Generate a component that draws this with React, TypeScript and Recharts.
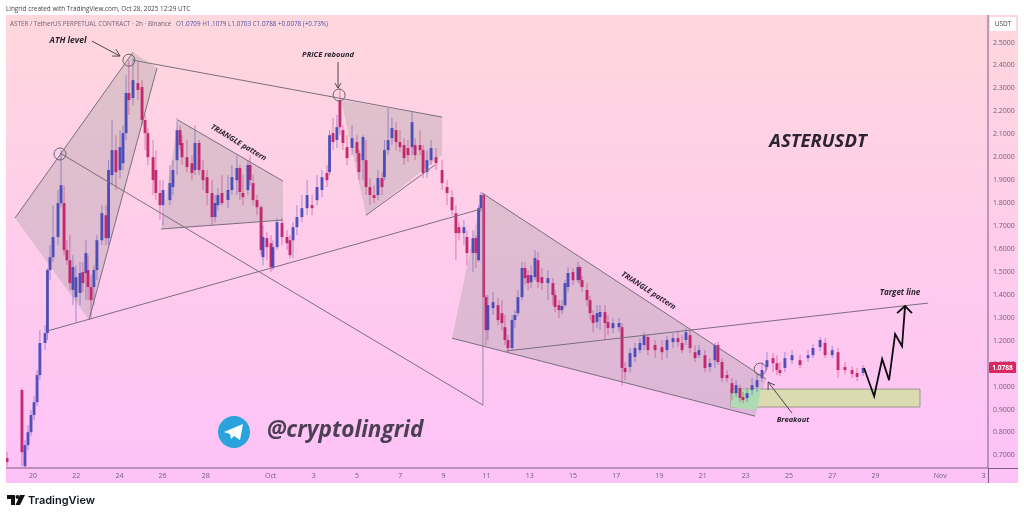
import {
  Bar,
  ComposedChart,
  Line,
  ReferenceArea,
  ReferenceDot,
  ReferenceLine,
  XAxis,
  YAxis,
} from 'recharts';

// x axis is in days since Sep 20
const tickDays = [0, 2, 4, 6, 8, 11, 13, 15, 17, 19, 21, 23, 25, 27, 29, 31, 33, 35, 37, 39, 42, 44];
const tickLabels = ['20', '22', '24', '26', '28', 'Oct', '3', '5', '7', '9', '11', '13', '15', '17', '19', '21', '23', '25', '27', '29', 'Nov', '3'];
const priceTicks = [2.5, 2.4, 2.3, 2.2, 2.1, 2.0, 1.9, 1.8, 1.7, 1.6, 1.5, 1.4, 1.3, 1.2, 1.1, 1.0, 0.9, 0.8, 0.7];

const candleDays = [
  -1.2, -0.51, -0.37, -0.23, -0.09, 0.05, 0.19, 0.32, 0.56, 0.67, 0.79,
  0.93, 1.16, 1.3, 1.44, 1.57, 1.71, 1.85, 1.99, 2.18, 2.31,
  2.45, 2.55, 2.69, 2.82, 2.96, 3.19, 3.38, 3.5, 3.66, 3.84,
  4.03, 4.17, 4.31, 4.44, 4.63, 4.86, 5.05, 5.19, 5.32, 5.56,
  5.69, 5.88, 6.02, 6.34, 6.48, 6.67, 6.81, 6.9, 7.13, 7.36,
  7.5, 7.69, 7.87, 8.06, 8.29, 8.43, 8.56, 8.75, 9.03, 9.21,
  9.44, 9.58, 9.72, 9.95, 10.05, 10.19, 10.37, 10.56, 10.65, 10.83,
  11.02, 11.11, 11.3, 11.53, 11.76, 11.9, 12.04, 12.22, 12.45, 12.69,
  12.92, 13.15, 13.38, 13.61, 13.73, 13.89, 14.07, 14.21, 14.35, 14.54,
  14.77, 15.0, 15.09, 15.28, 15.42, 15.6, 15.79, 15.97, 16.16, 16.27,
  16.44, 16.62, 16.81, 16.99, 17.18, 17.36, 17.55, 17.69, 17.92, 18.06,
  18.24, 18.43, 18.66, 18.94, 19.17, 19.4, 19.58, 19.72, 19.95, 20.09,
  20.37, 20.51, 20.63, 20.74, 20.86, 20.97, 21.06, 21.3, 21.53, 21.71,
  21.85, 21.99, 22.18, 22.31, 22.45, 22.64, 22.78, 22.92, 23.06, 23.24,
  23.38, 23.56, 23.84, 24.07, 24.17, 24.35, 24.49, 24.63, 24.77, 25.0,
  25.23, 25.32, 25.42, 25.65, 25.79, 25.93, 26.11, 26.25, 26.48, 26.62,
  26.85, 27.13, 27.27, 27.41, 27.64, 27.87, 28.1, 28.29, 28.47, 28.8,
  29.12, 29.35, 29.63, 29.86, 30.05, 30.23, 30.42, 30.65, 30.83, 31.11,
  31.34, 31.57, 31.71, 31.9, 32.13, 32.36, 32.55, 32.73, 32.87, 33.06,
  33.29, 33.52, 33.75, 33.98, 34.26, 34.44, 34.58, 34.81, 35.14, 35.51,
  35.88, 36.11, 36.44, 36.67, 37.0, 37.27, 37.59, 37.92, 38.15, 38.43,
];

const candleOpen = [
  0.686, 0.983, 0.651, 0.743, 0.799, 0.874, 0.93, 1.048, 1.188, 1.231, 1.506,
  1.562, 1.65, 1.798, 1.798, 1.593, 1.549, 1.419, 1.388, 1.406, 1.497,
  1.493, 1.506, 1.432, 1.432, 1.506, 1.636, 1.745, 1.645, 1.92, 2.029,
  1.942, 1.972, 2.103, 2.278, 2.256, 2.321, 2.304, 2.16, 2.103, 1.998,
  1.942, 1.842, 1.789, 1.811, 1.868, 1.985, 2.116, 2.06, 1.998, 1.972,
  1.942, 2.06, 1.942, 1.911, 1.842, 1.737, 1.789, 1.842, 1.811, 1.855,
  1.898, 1.951, 1.842, 1.855, 1.964, 1.885, 1.811, 1.78, 1.562, 1.645,
  1.623, 1.515, 1.606, 1.711, 1.65, 1.636, 1.636, 1.693, 1.737, 1.776,
  1.789, 1.811, 1.855, 1.929, 1.933, 2.103, 2.073, 2.247, 2.116, 2.042,
  2.038, 2.064, 2.016, 1.985, 1.985, 1.868, 1.833, 1.833, 1.907, 1.911,
  2.029, 2.081, 2.116, 2.064, 2.051, 2.038, 2.042, 2.051, 2.051, 2.029,
  1.933, 1.985, 1.998, 1.942, 1.868, 1.824, 1.754, 1.693, 1.667, 1.65,
  1.58, 1.645, 1.549, 1.776, 1.833, 1.388, 1.244, 1.34, 1.353, 1.318,
  1.257, 1.201, 1.166, 1.288, 1.318, 1.388, 1.515, 1.484, 1.453, 1.475,
  1.549, 1.475, 1.449, 1.449, 1.397, 1.353, 1.331, 1.353, 1.432, 1.497,
  1.462, 1.519, 1.462, 1.419, 1.375, 1.31, 1.279, 1.301, 1.323, 1.279,
  1.253, 1.257, 1.257, 1.079, 1.083, 1.127, 1.157, 1.179, 1.214, 1.179,
  1.17, 1.157, 1.192, 1.209, 1.188, 1.201, 1.222, 1.148, 1.135, 1.135,
  1.083, 1.113, 1.179, 1.105, 1.048, 1.013, 0.969, 0.991, 0.952, 0.948,
  0.983, 0.996, 1.035, 1.083, 1.122, 1.1, 1.07, 1.079, 1.113, 1.113,
  1.122, 1.135, 1.17, 1.188, 1.135, 1.148, 1.083, 1.07, 1.057, 1.057,
];

const candleClose = [
  0.669, 0.712, 0.743, 0.799, 0.874, 0.93, 1.048, 1.188, 1.231, 1.506, 1.562,
  1.65, 1.798, 1.876, 1.593, 1.549, 1.449, 1.519, 1.475, 1.493, 1.449,
  1.58, 1.432, 1.375, 1.506, 1.636, 1.754, 1.645, 1.942, 2.029, 1.933,
  2.042, 2.103, 2.278, 2.247, 2.334, 2.291, 2.16, 2.103, 1.998, 1.898,
  1.842, 1.789, 1.855, 1.885, 1.942, 2.116, 2.051, 1.998, 1.955, 1.929,
  2.06, 1.942, 1.898, 1.842, 1.737, 1.798, 1.833, 1.798, 1.855, 1.911,
  1.951, 1.846, 1.824, 1.964, 1.898, 1.811, 1.78, 1.593, 1.65, 1.606,
  1.519, 1.606, 1.715, 1.65, 1.623, 1.571, 1.693, 1.737, 1.776, 1.833,
  1.776, 1.868, 1.911, 1.898, 2.094, 2.064, 2.129, 2.129, 2.06, 1.994,
  2.081, 2.016, 1.933, 2.086, 1.868, 1.833, 1.82, 1.907, 1.868, 2.029,
  2.073, 2.125, 2.064, 2.042, 1.994, 2.007, 2.151, 2.007, 2.029, 1.929,
  1.985, 2.038, 1.972, 1.885, 1.842, 1.767, 1.667, 1.667, 1.693, 1.58,
  1.645, 1.58, 1.776, 1.833, 1.388, 1.244, 1.353, 1.366, 1.288, 1.275,
  1.201, 1.166, 1.288, 1.31, 1.388, 1.515, 1.471, 1.449, 1.484, 1.558,
  1.453, 1.449, 1.471, 1.397, 1.345, 1.331, 1.349, 1.449, 1.493, 1.462,
  1.519, 1.462, 1.432, 1.375, 1.318, 1.275, 1.318, 1.323, 1.275, 1.253,
  1.275, 1.275, 1.079, 1.061, 1.144, 1.166, 1.188, 1.222, 1.157, 1.157,
  1.148, 1.201, 1.209, 1.192, 1.157, 1.235, 1.166, 1.122, 1.157, 1.079,
  1.1, 1.179, 1.105, 1.035, 1.035, 0.969, 1.004, 0.948, 0.939, 0.969,
  1.004, 1.026, 1.07, 1.113, 1.1, 1.07, 1.057, 1.122, 1.135, 1.092,
  1.135, 1.166, 1.201, 1.135, 1.157, 1.07, 1.07, 1.053, 1.04, 1.079,
];

const candleHigh = [
  0.712, 0.991, 0.765, 0.83, 0.895, 0.956, 1.07, 1.244, 1.266, 1.515, 1.615,
  1.789, 1.855, 2.029, 1.876, 1.636, 1.658, 1.571, 1.527, 1.541, 1.541,
  1.636, 1.571, 1.484, 1.527, 1.658, 1.789, 1.789, 1.985, 2.16, 2.094,
  2.116, 2.138, 2.356, 2.421, 2.43, 2.413, 2.334, 2.182, 2.125, 2.073,
  2.029, 1.898, 1.898, 1.964, 1.985, 2.169, 2.138, 2.094, 2.073, 2.007,
  2.138, 2.073, 1.985, 1.942, 1.898, 1.833, 1.863, 1.92, 1.92, 1.964,
  2.007, 1.964, 1.92, 1.985, 2.007, 1.92, 1.833, 1.789, 1.702, 1.671,
  1.658, 1.636, 1.733, 1.733, 1.68, 1.658, 1.715, 1.789, 1.833, 1.898,
  1.833, 1.92, 1.942, 1.964, 2.116, 2.169, 2.182, 2.299, 2.138, 2.094,
  2.138, 2.094, 2.029, 2.094, 2.073, 1.907, 1.876, 1.942, 1.933, 2.073,
  2.212, 2.169, 2.151, 2.116, 2.081, 2.073, 2.195, 2.081, 2.116, 2.051,
  2.029, 2.073, 2.038, 1.985, 1.898, 1.855, 1.789, 1.715, 1.724, 1.68,
  1.68, 1.658, 1.789, 1.846, 1.842, 1.397, 1.397, 1.41, 1.384, 1.375,
  1.31, 1.222, 1.31, 1.331, 1.419, 1.541, 1.541, 1.506, 1.527, 1.593,
  1.584, 1.515, 1.506, 1.471, 1.419, 1.375, 1.375, 1.462, 1.519, 1.515,
  1.541, 1.527, 1.48, 1.449, 1.393, 1.331, 1.353, 1.353, 1.353, 1.31,
  1.297, 1.297, 1.275, 1.105, 1.166, 1.188, 1.209, 1.235, 1.227, 1.201,
  1.201, 1.218, 1.231, 1.235, 1.222, 1.253, 1.244, 1.179, 1.179, 1.157,
  1.122, 1.188, 1.192, 1.122, 1.07, 1.035, 1.026, 1.004, 0.974, 0.991,
  1.035, 1.048, 1.105, 1.148, 1.144, 1.135, 1.105, 1.148, 1.157, 1.135,
  1.157, 1.183, 1.214, 1.209, 1.175, 1.166, 1.105, 1.087, 1.079, 1.092,
];

const candleLow = [
  0.651, 0.651, 0.647, 0.721, 0.782, 0.852, 0.913, 1.026, 1.157, 1.201, 1.462,
  1.541, 1.615, 1.78, 1.571, 1.527, 1.419, 1.353, 1.279, 1.353, 1.41,
  1.375, 1.375, 1.297, 1.353, 1.462, 1.615, 1.615, 1.615, 1.876, 1.855,
  1.907, 1.942, 2.073, 2.182, 2.225, 2.247, 2.138, 2.029, 1.964, 1.833,
  1.811, 1.724, 1.702, 1.789, 1.833, 1.92, 2.029, 1.964, 1.933, 1.898,
  1.92, 1.92, 1.855, 1.789, 1.702, 1.715, 1.767, 1.789, 1.776, 1.833,
  1.833, 1.811, 1.789, 1.833, 1.876, 1.789, 1.745, 1.571, 1.527, 1.549,
  1.497, 1.506, 1.593, 1.615, 1.593, 1.558, 1.558, 1.658, 1.715, 1.745,
  1.745, 1.789, 1.824, 1.868, 1.92, 2.029, 2.038, 2.094, 2.029, 1.964,
  2.007, 1.977, 1.898, 1.898, 1.833, 1.789, 1.798, 1.811, 1.833, 1.898,
  2.007, 2.051, 2.029, 2.02, 1.964, 1.977, 2.007, 1.985, 2.007, 1.907,
  1.907, 1.964, 1.942, 1.855, 1.789, 1.745, 1.549, 1.636, 1.615, 1.527,
  1.497, 1.515, 1.541, 1.759, 1.384, 1.179, 1.201, 1.31, 1.266, 1.244,
  1.179, 1.148, 1.157, 1.253, 1.305, 1.375, 1.44, 1.419, 1.427, 1.462,
  1.427, 1.419, 1.375, 1.353, 1.323, 1.297, 1.314, 1.345, 1.41, 1.44,
  1.449, 1.44, 1.41, 1.349, 1.288, 1.235, 1.253, 1.244, 1.201, 1.222,
  1.231, 1.235, 1.004, 1.026, 1.061, 1.105, 1.144, 1.157, 1.135, 1.122,
  1.113, 1.122, 1.166, 1.17, 1.144, 1.179, 1.144, 1.105, 1.122, 1.061,
  1.061, 1.079, 1.092, 1.018, 1.018, 0.939, 0.952, 0.93, 0.926, 0.93,
  0.961, 0.974, 1.018, 1.07, 1.061, 1.048, 1.044, 1.061, 1.096, 1.079,
  1.105, 1.122, 1.153, 1.122, 1.122, 1.035, 1.053, 1.035, 1.022, 1.044,
];

const candleTable = candleDays.map((day, i) => ({
  day,
  open: candleOpen[i],
  close: candleClose[i],
  high: candleHigh[i],
  low: candleLow[i],
}));

// shaded pattern shapes, as day / price corners
const wedgeDays = [-0.83, 4.63, 5.74, 2.59];
const wedgePrices = [1.733, 2.456, 2.387, 1.288];
const triangleADays = [6.71, 11.57, 11.57, 5.93];
const triangleAPrices = [2.16, 1.894, 1.724, 1.685];
const triangleBDays = [14.26, 18.94, 18.94, 15.42];
const triangleBPrices = [2.247, 2.173, 2.007, 1.745];
const triangleCDays = [20.79, 33.94, 33.43, 19.4];
const triangleCPrices = [1.842, 1.031, 0.869, 1.209];
const overlapDays = [32.31, 33.7, 33.52, 32.31];
const overlapPrices = [0.987, 0.987, 0.895, 0.909];

// drawn trend lines: day1, price1, day2, price2
const trendLines = [
  [4.63, 2.421, 18.94, 2.173],
  [1.25, 2.016, 20.83, 0.917],
  [0.65, 1.24, 20.74, 1.772],
  [21.9, 1.153, 41.44, 1.362],
  [-0.83, 1.733, 4.63, 2.456],
  [2.59, 1.288, 5.74, 2.387],
  [6.71, 2.16, 11.57, 1.894],
  [5.93, 1.685, 11.57, 1.724],
  [15.42, 1.745, 18.61, 1.964],
  [20.79, 1.842, 33.94, 1.031],
  [19.4, 1.209, 33.43, 0.869],
];
const paleLines = [[20.83, 0.917, 20.83, 1.833]];
const noteArrows = [
  [2.73, 2.504, 4.03, 2.439],
  [3.66, 2.439, 4.03, 2.439],
  [3.84, 2.469, 4.03, 2.439],
  [14.12, 2.413, 14.12, 2.299],
  [13.98, 2.321, 14.12, 2.299],
  [14.26, 2.321, 14.12, 2.299],
  [35.14, 0.882, 34.03, 1.018],
  [34.03, 0.983, 34.03, 1.018],
  [34.35, 1.004, 34.03, 1.018],
];
const circleDays = [4.44, 1.25, 14.17, 33.66];
const circlePrices = [2.421, 2.012, 2.269, 1.074];

const projectionDays = [38.47, 38.94, 39.31, 39.63, 39.91, 40.23, 40.37];
const projectionPrices = [1.079, 0.956, 1.118, 1.026, 1.227, 1.174, 1.349];
const projectionHeadDays = [40.0, 40.37, 40.69];
const projectionHeadPrices = [1.318, 1.349, 1.318];

const projection = projectionDays.map((day, i) => ({ day, target: projectionPrices[i] }));
const projectionHead = projectionHeadDays.map((day, i) => ({ day, target: projectionHeadPrices[i] }));

const UP = '#3a40b4';
const DOWN = '#bd1560';
const LINE = '#7a6f7e';
const AXIS_TEXT = '#6f5f78';
const PATTERN_FILL = 'rgba(135,145,140,0.27)';
const BODY_WIDTH = 2.9;

function Candle(props: any) {
  const { x, y, width, height, payload } = props;
  const mid = x + width / 2;
  const top = Math.min(y, y + height);
  const h = Math.abs(height);
  const perPrice = h / (payload.high - payload.low);
  const up = payload.close >= payload.open;
  const bodyTop = top + (payload.high - Math.max(payload.open, payload.close)) * perPrice;
  const bodyH = Math.max(1.5, Math.abs(payload.close - payload.open) * perPrice);
  const color = up ? UP : DOWN;
  return (
    <g>
      <rect x={mid - 0.5} y={top} width={1} height={h} fill={color} opacity={0.45} />
      <rect x={mid - BODY_WIDTH / 2} y={bodyTop} width={BODY_WIDTH} height={bodyH} fill={color} opacity={0.85} />
    </g>
  );
}

// ReferenceArea gives the pixel box of the corners, the polygon is placed inside it
function polygonArea(days: number[], prices: number[], fill: string, key: string) {
  const x1 = Math.min(...days);
  const x2 = Math.max(...days);
  const y1 = Math.min(...prices);
  const y2 = Math.max(...prices);
  const shape = (p: any) => {
    const pts = days
      .map((d, i) => {
        const px = p.x + ((d - x1) / (x2 - x1)) * p.width;
        const py = p.y + ((y2 - prices[i]) / (y2 - y1)) * p.height;
        return `${px},${py}`;
      })
      .join(' ');
    return <polygon points={pts} fill={fill} />;
  };
  return <ReferenceArea key={key} x1={x1} x2={x2} y1={y1} y2={y2} shape={shape} />;
}

function segment(s: number[], color: string, width: number, key: string) {
  return (
    <ReferenceLine
      key={key}
      segment={[{ x: s[0], y: s[1] }, { x: s[2], y: s[3] }]}
      stroke={color}
      strokeWidth={width}
    />
  );
}

const note = (left: number, top: number, text: string, size: number, rotate = 0) => (
  <div
    style={{
      position: 'absolute',
      left,
      top,
      transform: `translate(-50%, -50%) rotate(${rotate}deg)`,
      fontFamily: 'Open Sans',
      fontStyle: 'italic',
      fontWeight: 700,
      fontSize: size,
      color: '#2b2430',
      whiteSpace: 'nowrap',
    }}
  >
    {text}
  </div>
);

export default function App() {
  return (
    <div
      style={{
        position: 'absolute',
        left: 0,
        top: 0,
        width: 1024,
        height: 517,
        background: '#fff',
        overflow: 'hidden',
        filter: 'blur(0.4px)',
      }}
    >
      <div
        style={{
          position: 'absolute',
          left: 6,
          top: 15,
          width: 1012,
          height: 468,
          background: 'linear-gradient(180deg, #ffd7dd 0%, #ffcdea 45%, #fdc2f8 100%)',
        }}
      />
      <div style={{ position: 'absolute', left: 0, top: 0 }}>
        <ComposedChart
          width={1024}
          height={517}
          data={candleTable}
          margin={{ top: 15, right: 6, bottom: 34, left: 6 }}
        >
          <XAxis
            dataKey="day"
            type="number"
            domain={[-1.25, 44.21]}
            allowDataOverflow
            ticks={tickDays}
            tickFormatter={(d: number) => tickLabels[tickDays.indexOf(d)]}
            height={15}
            interval={0}
            tick={{ fontSize: 7, fill: AXIS_TEXT, fontFamily: 'Open Sans' }}
            tickLine={false}
            tickSize={0}
            tickMargin={5}
            stroke="#7d5d85"
          />
          <YAxis
            yAxisId={0}
            orientation="right"
            type="number"
            domain={[0.643, 2.618]}
            allowDataOverflow
            ticks={priceTicks}
            interval={0}
            tickFormatter={(v: number) => v.toFixed(4)}
            width={30}
            tick={{ fontSize: 7, fill: AXIS_TEXT, fontFamily: 'Open Sans' }}
            tickLine={false}
            tickSize={0}
            tickMargin={5}
            stroke="#7d5d85"
          />
          {polygonArea(wedgeDays, wedgePrices, PATTERN_FILL, 'wedge')}
          {polygonArea(triangleADays, triangleAPrices, PATTERN_FILL, 'triA')}
          {polygonArea(triangleBDays, triangleBPrices, PATTERN_FILL, 'triB')}
          {polygonArea(triangleCDays, triangleCPrices, PATTERN_FILL, 'triC')}
          <ReferenceArea
            x1={32.31}
            x2={41.06}
            y1={0.909}
            y2={0.987}
            fill="#dcdab0"
            fillOpacity={1}
            stroke="#9a9590"
            strokeWidth={1}
          />
          {polygonArea(overlapDays, overlapPrices, '#aedab4', 'overlap')}
          {paleLines.map((s, i) => segment(s, '#a08a9c', 1, `pale${i}`))}
          {trendLines.map((s, i) => segment(s, LINE, 1, `trend${i}`))}
          {noteArrows.map((s, i) => segment(s, '#4d4650', 1, `arrow${i}`))}
          {circleDays.map((d, i) => (
            <ReferenceDot key={`c${i}`} x={d} y={circlePrices[i]} r={6} fill="none" stroke="#6a636e" strokeWidth={1} />
          ))}
          <Bar
            dataKey={(d: any) => [d.low, d.high]}
            barSize={3}
            shape={Candle}
            isAnimationActive={false}
          />
          <Line
            data={projection}
            dataKey="target"
            type="linear"
            stroke="#0c0c10"
            strokeWidth={1.8}
            dot={false}
            activeDot={false}
            isAnimationActive={false}
          />
          <Line
            data={projectionHead}
            dataKey="target"
            type="linear"
            stroke="#0c0c10"
            strokeWidth={1.8}
            dot={false}
            activeDot={false}
            isAnimationActive={false}
          />
        </ComposedChart>
      </div>

      {/* axis corner pieces */}
      <div style={{ position: 'absolute', left: 988, top: 468, width: 30, height: 1, background: '#7d5d85' }} />
      <div style={{ position: 'absolute', left: 988, top: 468, width: 1, height: 15, background: '#7d5d85' }} />

      {/* header */}
      <div style={{ position: 'absolute', left: 6, top: 4, fontFamily: 'Open Sans', fontSize: 6.4, color: '#444', whiteSpace: 'nowrap' }}>
        Lingrid created with TradingView.com, Oct 28, 2025 12:29 UTC
      </div>
      <div style={{ position: 'absolute', left: 10, top: 19, fontFamily: 'Open Sans', fontSize: 6.3, color: '#6f6478', whiteSpace: 'nowrap' }}>
        ASTER / TetherUS PERPETUAL CONTRACT · 2h · Binance{' '}
        <span style={{ color: '#4a4fa8', marginLeft: 3 }}>
          <span style={{ color: '#6f6478' }}>O</span>1.0709 <span style={{ color: '#6f6478' }}>H</span>1.1079{' '}
          <span style={{ color: '#6f6478' }}>L</span>1.0703 <span style={{ color: '#6f6478' }}>C</span>1.0788 +0.0078 (+0.73%)
        </span>
      </div>

      {/* price scale tags */}
      <div style={{ position: 'absolute', left: 990, top: 17, width: 26, height: 14, background: '#fff', fontFamily: 'Open Sans', fontSize: 6.5, lineHeight: '14px', textAlign: 'center', color: '#444' }}>
        USDT
      </div>
      <div style={{ position: 'absolute', left: 989, top: 362, width: 27, height: 11, background: '#d9285f', borderRadius: 1, fontFamily: 'Open Sans', fontSize: 6.6, fontWeight: 700, lineHeight: '11px', textAlign: 'center', color: '#fff' }}>
        1.0788
      </div>

      {note(68, 39, 'ATH level', 8.5)}
      {note(328, 54, 'PRICE rebound', 7.5)}
      {note(239, 142, 'TRIANGLE pattern', 7.5, 31)}
      {note(649, 290, 'TRIANGLE pattern', 7.5, 33)}
      {note(793, 419, 'Breakout', 7.5)}
      {note(900, 291, 'Target line', 8)}
      {note(818, 139, 'ASTERUSDT', 18.5)}

      {/* telegram badge */}
      <svg style={{ position: 'absolute', left: 218, top: 416 }} width={32} height={32}>
        <circle cx={16} cy={16} r={16} fill="#2aa3dc" />
        <polygon points="6,16 25,8 22,24 16,20 13,23 12,18" fill="#fff" />
      </svg>
      <div style={{ position: 'absolute', left: 267, top: 413, fontFamily: 'Open Sans', fontStyle: 'italic', fontWeight: 700, fontSize: 22.6, color: '#4b3f55', whiteSpace: 'nowrap' }}>
        @cryptolingrid
      </div>

      {/* footer logo */}
      <svg style={{ position: 'absolute', left: 7, top: 495 }} width={18} height={11}>
        <polygon points="0,0 8,0 8,10 4,10 4,4 0,4" fill="#111" />
        <circle cx={10.5} cy={2} r={2} fill="#111" />
        <polygon points="13,0 18,0 13,10 8.5,10" fill="#111" />
      </svg>
      <div style={{ position: 'absolute', left: 28, top: 493, fontFamily: 'Inter', fontWeight: 600, fontSize: 11, color: '#131722', whiteSpace: 'nowrap' }}>
        TradingView
      </div>
    </div>
  );
}
